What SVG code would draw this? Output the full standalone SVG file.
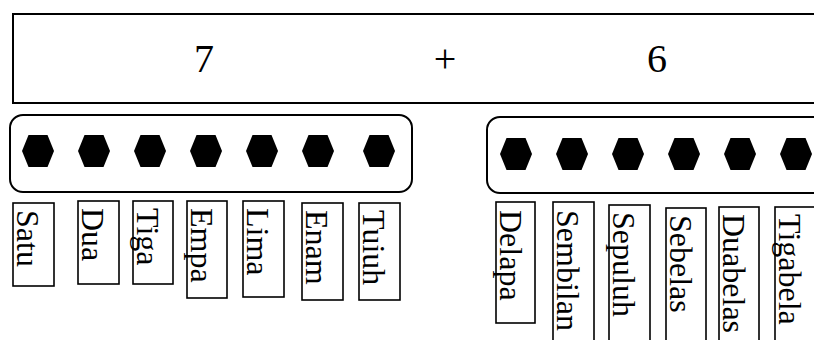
<svg xmlns="http://www.w3.org/2000/svg" width="814" height="340" viewBox="0 0 814 340">
<defs>
<style>
.box{fill:#fff;stroke:#000;stroke-width:2}
.lbl{fill:#fff;stroke:#000;stroke-width:1.6}
.hex{fill:#000}
.big{font-family:"Liberation Serif","Times New Roman",serif;font-size:40px;fill:#000;text-anchor:middle}
.t{font-family:"Liberation Serif","Times New Roman",serif;font-size:32px;fill:#000}
</style>
<polygon id="hx" class="hex" points="-16,0 -9.5,-16 9.5,-16 16,0 9.5,16 -9.5,16"/>
</defs>
<rect width="814" height="340" fill="#fff"/>
<g id="sum">
<rect class="box" x="13" y="14" width="830" height="89"/>
<text class="big" x="204" y="72">7</text>
<text class="big" x="445" y="72">+</text>
<text class="big" x="657" y="72">6</text>
</g>
<g id="group7">
<rect class="box" x="10" y="115" width="402" height="77" rx="13"/>
<use href="#hx" x="38" y="151"/>
<use href="#hx" x="94" y="151"/>
<use href="#hx" x="150" y="151"/>
<use href="#hx" x="206" y="151"/>
<use href="#hx" x="262" y="151"/>
<use href="#hx" x="318" y="151"/>
<use href="#hx" x="379" y="151"/>
</g>
<g id="group6">
<rect class="box" x="487" y="117" width="400" height="76" rx="13"/>
<use href="#hx" x="516" y="154"/>
<use href="#hx" x="572" y="154"/>
<use href="#hx" x="628" y="154"/>
<use href="#hx" x="684" y="154"/>
<use href="#hx" x="740" y="154"/>
<use href="#hx" x="796" y="154"/>
</g>
<g id="connectors"></g>
<g id="satu"><rect class="lbl" x="13" y="203" width="41" height="83"/><text class="t" transform="translate(17,210) rotate(90)">Satu</text></g>
<g id="dua"><rect class="lbl" x="78" y="201" width="41" height="83"/><text class="t" transform="translate(82,208) rotate(90)">Dua</text></g>
<g id="tiga"><rect class="lbl" x="133" y="201" width="40" height="83"/><text class="t" transform="translate(137,208) rotate(90)">Tiga</text></g>
<g id="empa"><rect class="lbl" x="187" y="201" width="40" height="97"/><text class="t" transform="translate(191,208) rotate(90)">Empa</text></g>
<g id="lima"><rect class="lbl" x="243" y="201" width="41" height="96"/><text class="t" transform="translate(247,208) rotate(90)">Lima</text></g>
<g id="enam"><rect class="lbl" x="302" y="203" width="41" height="97"/><text class="t" transform="translate(306,210) rotate(90)">Enam</text></g>
<g id="tuiuh"><rect class="lbl" x="359" y="203" width="41" height="97"/><text class="t" transform="translate(363,210) rotate(90)">Tuiuh</text></g>
<g id="delapa"><rect class="lbl" x="496" y="202" width="39" height="121"/><text class="t" transform="translate(500,210) rotate(90)">Delapa</text></g>
<g id="sembilan"><rect class="lbl" x="553" y="202" width="41" height="160"/><text class="t" transform="translate(557,210) rotate(90)">Sembilan</text></g>
<g id="sepuluh"><rect class="lbl" x="609" y="205" width="41" height="160"/><text class="t" transform="translate(613,212) rotate(90)">Sepuluh</text></g>
<g id="sebelas"><rect class="lbl" x="666" y="208" width="40" height="160"/><text class="t" transform="translate(670,215) rotate(90)">Sebelas</text></g>
<g id="duabelas"><rect class="lbl" x="719" y="207" width="40" height="160"/><text class="t" transform="translate(723,214) rotate(90)">Duabelas</text></g>
<g id="tigabela"><rect class="lbl" x="775" y="207" width="60" height="160"/><text class="t" transform="translate(779,214) rotate(90)">Tigabela</text></g>
</svg>
